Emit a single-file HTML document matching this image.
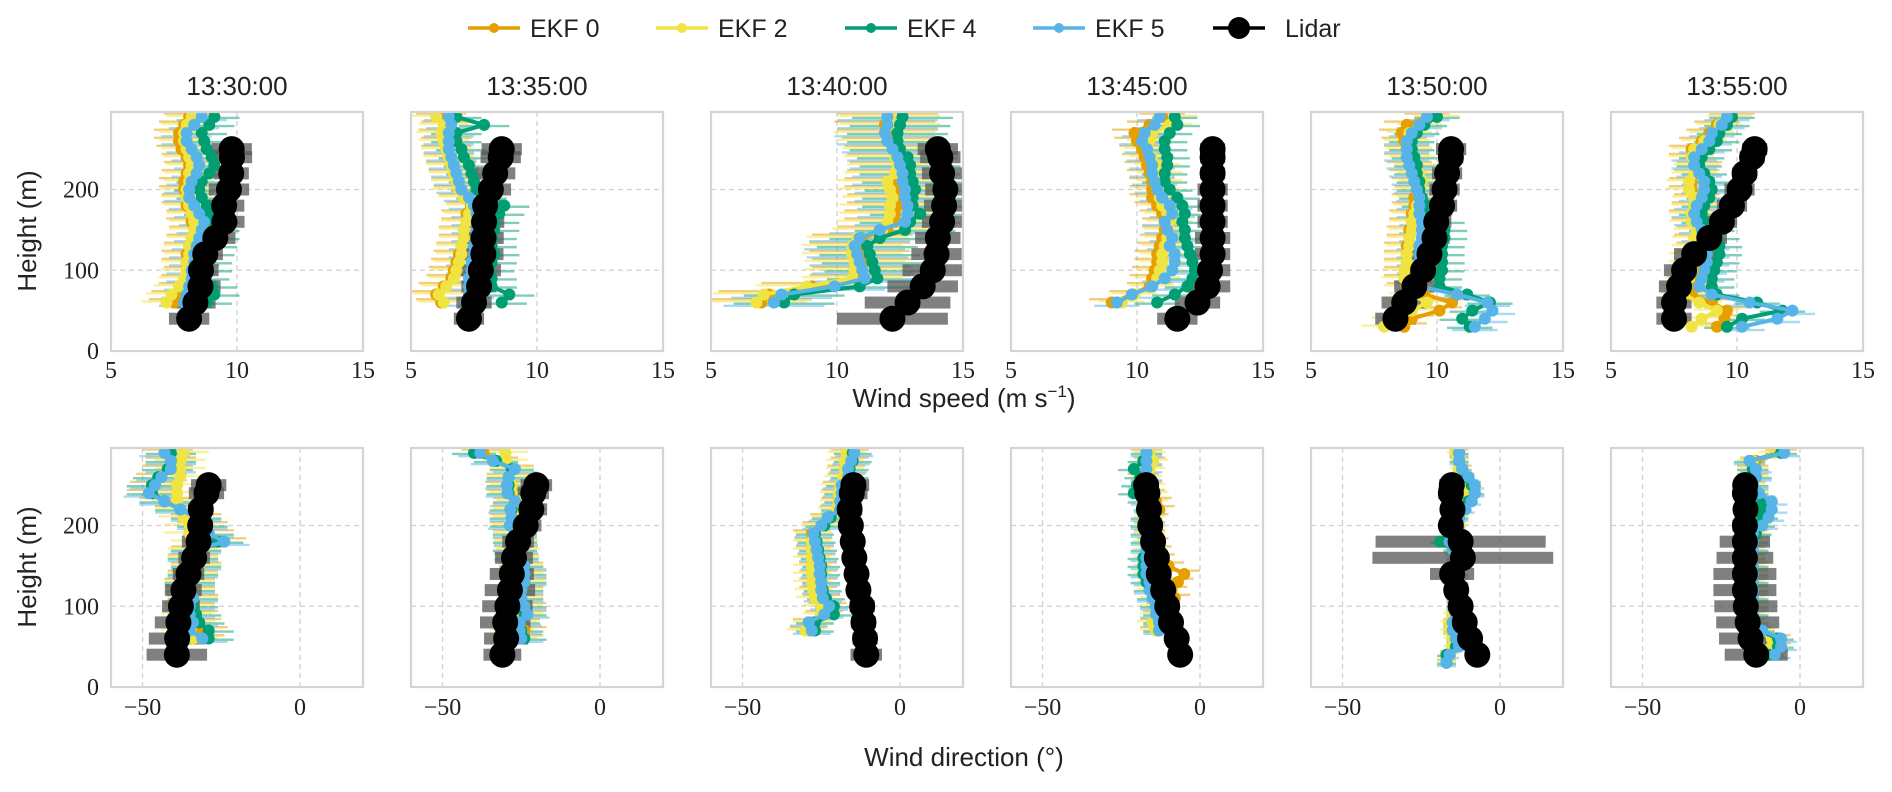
<!DOCTYPE html>
<html><head><meta charset="utf-8"><style>
html,body{margin:0;padding:0;background:#fff}
svg{display:block}
.tk{font-family:"Liberation Serif",serif;font-size:24px;fill:#222}
.lb{font-family:"Liberation Sans",sans-serif;fill:#222}
</style></head><body>
<svg id="fig" width="1892" height="792" viewBox="0 0 1892 792" xmlns="http://www.w3.org/2000/svg">
<g id="legend"></g>
<g id="panels"></g>
<text class="lb" x="964" y="407" font-size="26" text-anchor="middle">Wind speed (m s<tspan dy="-10" font-size="17">−1</tspan><tspan dy="10">)</tspan></text>
<text class="lb" x="964" y="766" font-size="26" text-anchor="middle">Wind direction (°)</text>
<text class="lb" transform="translate(36,231) rotate(-90)" font-size="26" text-anchor="middle">Height (m)</text>
<text class="lb" transform="translate(36,567) rotate(-90)" font-size="26" text-anchor="middle">Height (m)</text>
</svg>
<script>
const times = ["13:30:00","13:35:00","13:40:00","13:45:00","13:50:00","13:55:00"];
const seriesNames = ["EKF 0","EKF 2","EKF 4","EKF 5"];
const lidarHeights = [40,60,80,100,120,140,160,180,200,220,240,250];
const speedTicks = [5,10,15];
const dirTicks = [-50,0];
const heightTicks = [0,100,200];

const speedEkfStart = [60,60,60,60,30,30];
const speedEkfErr = [1.0,1.0,2.0,0.9,0.9,0.9];
const speedEkf0 = [
 [7.5,7.6,7.9,8.0,8.1,8.0,8.0,8.1,8.2,8.3,8.2,8.2,8.0,8.0,7.9,7.9,8.0,8.1,8.0,7.8,7.7,7.7,7.9,8.1],
 [6.2,6.0,6.3,6.6,6.7,6.8,6.9,7.0,7.1,7.1,7.2,7.2,7.4,7.1,6.9,6.8,6.7,6.6,6.5,6.4,6.4,6.3,6.4,6.2],
 [7.0,7.3,9.0,10.9,11.0,11.0,10.9,10.9,11.0,12.0,12.3,12.3,12.4,12.4,12.3,12.3,12.4,12.5,12.4,12.3,12.2,12.0,11.9,12.0],
 [9.0,9.8,10.5,10.6,10.7,10.8,10.8,10.9,11.0,11.1,11.1,11.0,10.8,10.6,10.6,10.6,10.5,10.4,10.3,10.2,10.0,9.9,10.5,11.0],
 [8.7,9.0,10.1,10.6,9.5,8.9,8.8,8.8,8.8,8.8,8.8,8.9,8.9,9.0,9.0,9.1,9.1,9.2,9.1,9.0,8.9,8.8,8.8,8.7,8.6,8.8,9.6],
 [9.2,9.5,9.6,9.0,8.2,8.2,8.3,8.4,8.4,8.5,8.5,8.4,8.5,8.3,8.2,8.3,8.4,8.2,8.2,8.4,8.5,8.2,8.2,8.6,8.9,9.2,9.8]];
const speedEkf2 = [
 [7.2,7.4,7.7,7.9,8.0,8.0,8.1,8.1,8.2,8.3,8.3,8.2,8.1,8.0,8.0,8.1,8.1,8.2,8.1,8.0,7.9,7.9,8.0,8.2],
 [6.3,6.1,6.4,6.7,6.8,6.9,7.0,7.0,7.1,7.1,7.2,7.3,7.4,7.1,6.9,6.8,6.7,6.6,6.5,6.4,6.3,6.2,6.3,6.0],
 [6.8,7.1,8.8,10.6,10.7,10.7,10.6,10.6,10.8,11.8,12.0,12.1,12.1,12.2,12.1,12.0,12.3,12.4,12.3,12.2,12.0,11.9,12.1,12.1],
 [9.4,9.9,10.6,10.8,10.9,11.0,11.0,11.1,11.2,11.2,11.3,11.2,11.0,10.9,10.8,10.9,10.9,10.8,10.6,10.4,10.5,10.6,11.3,11.5],
 [7.9,8.3,9.0,9.6,9.0,8.8,8.7,8.7,8.8,8.8,8.9,8.9,9.0,9.0,9.1,9.2,9.3,9.3,9.4,9.3,9.2,9.0,8.9,8.8,8.9,9.3,10.0],
 [8.2,8.6,9.2,8.5,7.9,7.9,8.1,8.2,8.2,8.2,8.3,8.3,8.4,8.2,8.2,8.3,8.3,8.1,8.1,8.3,8.4,8.2,8.3,8.7,9.0,9.3,9.7]];
const speedEkf4 = [
 [8.8,9.1,9.0,8.7,8.8,8.8,8.9,9.0,9.1,9.1,9.1,8.9,8.8,8.6,8.5,8.6,8.9,9.1,9.0,8.8,8.7,8.6,8.9,9.1],
 [8.6,8.9,8.2,8.2,8.1,8.2,8.3,8.2,8.2,8.3,8.3,8.5,8.7,7.8,7.6,7.5,7.4,7.3,7.1,7.0,6.8,6.8,7.9,6.8],
 [7.9,8.3,10.9,11.6,11.5,11.4,11.3,11.2,11.7,12.7,12.9,13.3,13.0,13.0,13.1,13.0,12.9,12.9,12.8,12.5,12.4,12.4,12.5,12.6],
 [10.8,11.5,12.0,12.2,12.3,12.2,12.1,12.0,11.9,11.9,11.8,11.9,11.8,11.6,11.3,11.1,11.1,11.2,11.2,11.1,11.1,11.3,11.6,11.5],
 [11.3,11.0,11.4,12.1,11.2,10.1,10.1,10.2,10.2,10.2,10.2,10.3,10.3,10.2,9.7,9.5,9.4,9.3,9.3,9.2,9.2,9.1,9.0,9.0,9.2,9.5,10.0],
 [9.6,10.2,11.8,10.8,9.2,9.0,9.0,9.1,9.2,9.3,9.3,9.2,9.0,8.7,8.6,8.7,8.9,9.0,8.9,8.7,8.5,8.6,8.9,9.2,9.3,9.6,9.8]];
const speedEkf5 = [
 [7.9,8.0,8.1,8.2,8.2,8.3,8.3,8.4,8.5,8.6,8.7,8.5,8.3,8.1,8.1,8.2,8.4,8.5,8.4,8.2,8.0,8.0,8.3,8.6],
 [7.2,7.3,7.3,7.3,7.4,7.4,7.5,7.5,7.6,7.6,7.6,7.6,7.5,7.3,7.0,6.9,6.8,6.7,6.6,6.5,6.5,6.5,6.6,6.5],
 [7.5,7.8,9.9,11.1,11.0,10.9,10.8,10.7,10.9,11.7,12.7,12.8,12.8,12.7,12.7,12.6,12.6,12.5,12.4,12.2,12.0,11.9,12.0,12.0],
 [9.2,9.8,10.6,11.1,11.4,11.5,11.5,11.3,11.4,11.2,11.1,11.4,11.3,11.0,10.8,10.7,10.6,10.6,10.5,10.4,10.2,10.3,10.7,10.9],
 [11.5,11.9,12.2,12.0,10.8,9.3,9.2,9.3,9.3,9.3,9.3,9.4,9.4,9.4,9.3,9.3,9.3,9.2,9.1,9.0,8.9,8.8,8.8,8.8,9.0,9.3,9.6],
 [10.2,11.6,12.2,10.5,9.0,8.5,8.6,8.7,8.8,8.8,8.8,8.7,8.6,8.4,8.3,8.4,8.6,8.7,8.7,8.5,8.3,8.3,8.6,8.9,9.0,9.4,9.6]];
const speedLidar = [
 [8.1,8.35,8.55,8.57,8.74,9.14,9.5,9.49,9.68,9.77,9.8,9.79],
 [7.3,7.5,7.7,7.77,7.87,7.88,7.9,7.94,8.17,8.34,8.56,8.6],
 [12.2,12.8,13.4,13.8,13.95,14.0,14.17,14.25,14.3,14.17,14.1,14.0],
 [11.6,12.4,12.8,12.9,13.0,13.0,13.0,13.0,13.0,13.0,13.0,13.0],
 [8.35,8.7,9.1,9.45,9.7,9.9,9.97,10.2,10.3,10.4,10.55,10.56],
 [7.5,7.5,7.7,7.9,8.3,8.9,9.4,9.8,10.1,10.3,10.6,10.7]];
const speedLidarErr = [
 [0.8,0.8,0.8,0.7,0.7,0.8,0.8,0.8,0.8,0.7,0.8,0.8],
 [0.6,0.7,0.7,0.8,0.8,0.8,0.8,0.8,0.8,0.8,0.8,0.8],
 [2.2,1.7,1.4,1.2,1.0,0.9,0.8,0.8,0.8,0.8,0.8,0.8],
 [0.8,0.9,0.9,0.8,0.7,0.7,0.6,0.6,0.6,0.5,0.5,0.5],
 [0.8,0.9,0.8,0.7,0.7,0.6,0.6,0.6,0.6,0.6,0.5,0.6],
 [0.7,0.7,0.8,0.8,0.8,0.7,0.6,0.6,0.6,0.5,0.5,0.5]];

const dirEkfStart = [60,60,70,70,30,40];
const dirEkfErr = [8,7,6,5,3,5];
const dirEkf0 = [
 [-32,-31,-33,-34,-35,-34,-35,-35,-34,-33,-34,-33,-25,-29,-31,-33,-38,-43,-47,-46,-44,-42,-41,-42],
 [-25,-24,-26,-24,-24,-25,-25,-24,-24,-25,-26.5,-26.7,-27,-27,-28,-28,-28,-27,-29,-29.5,-29,-28,-33,-37],
 [-29,-28,-24,-23,-25,-26,-26,-26,-26,-26.5,-27,-27.5,-28,-25,-22.5,-19.5,-19,-19,-18.5,-17,-17,-16,-16],
 [-14,-14,-13,-12,-8,-9,-7,-5,-10,-13,-14,-15,-16,-16,-15,-13,-14,-16,-17,-18,-17,-16,-17],
 [-17,-16,-14,-14,-15,-15,-14,-14,-14,-14,-13,-13,-13,-14,-15,-16,-14,-14,-13,-12,-10,-9,-9,-11,-12,-13,-13],
 [-9,-8,-8,-14,-16,-15,-15,-15,-15,-15,-15,-15,-16,-16,-17,-15,-14,-13,-13,-13,-15,-16,-15,-15,-14,-6]];
const dirEkf2 = [
 [-34,-36,-35,-36,-35,-34,-35,-35,-34,-33,-34,-34,-33,-35,-35,-37,-38,-39,-39,-39,-38,-38,-38,-37],
 [-27,-28,-27,-25,-25,-25,-25,-24,-25,-25,-26,-26,-26.5,-27,-27,-27,-27,-26,-28,-28,-29,-28,-30,-30],
 [-30,-28,-25,-25,-27,-27.5,-28,-28,-28,-28,-28,-28,-27.5,-25,-22,-20,-19.5,-19.5,-19,-18,-17.5,-17.5,-17],
 [-14,-15,-14,-14,-14,-15,-15,-16,-16,-16,-16,-16,-16,-16,-16,-15,-15,-15,-16,-17,-16,-15,-16],
 [-17,-16,-15,-15,-16,-16,-15,-14,-14,-15,-14,-14,-13,-14,-15,-16,-14,-13,-13,-12,-12,-11,-11,-12,-13,-13,-14],
 [-10,-9,-9,-13,-16,-16,-16,-16,-16,-16,-16,-16,-16,-16,-16,-16,-14,-14,-13,-13,-15,-16,-15,-15,-15,-8]];
const dirEkf4 = [
 [-29,-29,-32,-33,-34,-34,-35,-35,-34,-33,-34,-33,-26,-29,-31,-33,-38,-43,-47,-47,-45,-42,-41,-41],
 [-24,-25,-26,-24,-24,-25,-25,-24,-24,-25,-26.5,-27,-27,-27,-28,-28,-28,-27,-29,-29,-29,-28,-33,-40],
 [-27,-27,-21,-21,-23.5,-24.5,-25,-25,-25,-25.5,-26,-26.5,-27,-24,-22,-19,-18,-18,-17.5,-16,-16,-15,-15],
 [-13,-13,-13,-14,-15,-16,-17,-18,-18,-18,-17,-17,-17,-17,-17,-16,-18,-21,-20,-19,-21,-18,-17],
 [-17,-17,-14,-14,-15,-15,-14,-14,-14,-14,-13,-13,-13,-14,-15,-19,-15,-14,-13,-12,-10,-8,-9,-11,-12,-13,-13],
 [-10,-7,-7,-13,-15,-15,-15,-15,-15,-15,-15,-15,-16,-15,-15,-14,-13,-12,-12,-12,-15,-15,-14,-15,-16,-6]];
const dirEkf5 = [
 [-31,-35,-34,-35,-35,-34,-35,-35,-34,-33,-34,-33,-24,-29,-31,-33,-38,-43,-48,-46,-44,-41,-41,-43],
 [-25,-25.5,-25.5,-23,-24,-25,-25,-24,-24,-24,-26.5,-26.7,-26.7,-27,-28.6,-28,-28.5,-27,-29.4,-29.5,-29,-27,-34,-38],
 [-28,-29,-24,-22.5,-24.5,-25,-25,-25.5,-25.5,-26,-26.5,-27,-27.5,-25,-23,-19,-19,-18.5,-18.5,-16.5,-16.5,-15.5,-14.5],
 [-13,-13,-14,-14,-15,-16,-16,-17,-17,-17,-17,-17,-17,-17,-17,-16,-17,-18,-18,-17,-17,-17,-17],
 [-17,-16,-13,-14,-15,-15,-14,-14,-14,-14,-13,-13,-13,-14,-15,-16,-14,-14,-13,-11,-9,-8,-8,-10,-12,-13,-13],
 [-8,-6,-6,-12,-15,-15,-15,-15,-15,-15,-15,-15,-16,-15,-15,-15,-12,-10,-9,-9,-13,-15,-14,-14,-16,-5]];
const dirLidar = [
 [-39.1,-39,-38.6,-37.8,-37,-35.4,-33.6,-32.2,-31.7,-31.5,-29.7,-29],
 [-31,-29.8,-30.1,-29.4,-28.6,-28,-27.3,-26,-23.6,-21.8,-21.2,-20.2],
 [-10.7,-11.1,-11.6,-12,-13.2,-13.8,-14.5,-15,-15.6,-16,-15.3,-14.8],
 [-6.3,-7.4,-9.2,-10.4,-11.7,-13.1,-13.7,-14.9,-15.8,-16.2,-16.7,-17.1],
 [-7.2,-9.5,-11.2,-12.5,-13.9,-15.2,-11.8,-12.5,-15.6,-15.1,-15.6,-15.3],
 [-13.9,-15.7,-16.6,-17.2,-17.5,-17.5,-17.5,-17.5,-17.5,-17.3,-17.5,-17.4]];
const dirLidarErr = [
 [9.6,9,7.5,6,5.8,5,5,5.3,4,4,5.6,5.6],
 [6,7,8,8,8,7,6,5,5,5,5,5],
 [5,4,4,4,3.5,3.5,3.5,3.5,3.5,4,5,5],
 [2,3,3,3,3,3,3,3,3,3,3,3],
 [2,2,2,2,3,7,28.7,27,3,3,4,4],
 [10,10,10,10,10,10,9,8,4,3,3,3]];

const colors = ["#E69F00","#F0E442","#009E73","#56B4E9"];
const NS = "http://www.w3.org/2000/svg";
const colLeft = [111,411,711,1011,1311,1611], PW = 252;
const rows = [{top:112,bot:351},{top:448,bot:687}];
const HMAX = 296;

function mk(tag, attrs, parent){
  const e = document.createElementNS(NS, tag);
  for (const k in attrs) e.setAttribute(k, attrs[k]);
  parent.appendChild(e); return e;
}

const leg = document.getElementById('legend');
const legX = [468,656,845,1033,1213];
["EKF 0","EKF 2","EKF 4","EKF 5","Lidar"].forEach((nm,i)=>{
  const g = mk('g',{},leg);
  
  
  const c = i<4 ? colors[i] : "#000";
  mk('line',{x1:legX[i],x2:legX[i]+52,y1:28,y2:28,stroke:c,'stroke-width':3.5},g);
  mk('circle',{cx:legX[i]+26,cy:28,r:i<4?5:11,fill:c},g);
  const t = mk('text',{x:legX[i]+(i<4?62:72),y:37,class:'lb','font-size':25},g);
  t.textContent = nm;
});

const panelsG = document.getElementById('panels');
function drawPanel(row, col, cfg){
  const L = colLeft[col], R = L+PW, T = rows[row].top, B = rows[row].bot;
  const sx = v => L + (v-cfg.xmin)/(cfg.xmax-cfg.xmin)*PW;
  const sy = h => B - h/HMAX*(B-T);
  const g = mk('g',{},panelsG);
  
  
  const defs = mk('defs',{},g);
  const cp = mk('clipPath',{id:'cp'+row+col},defs);
  mk('rect',{x:L,y:T,width:PW,height:B-T},cp);
  cfg.ticks.forEach(v=>{
    const gl = mk('line',{x1:sx(v),x2:sx(v),y1:T,y2:B,stroke:'#d0d0d0','stroke-width':1.3,'stroke-dasharray':'5 4'},g);
    
    
    const t = mk('text',{x:sx(v),y:row===0?378:715,class:'tk','text-anchor':'middle'},g);
    
    
    t.textContent = v<0 ? '−'+Math.abs(v) : String(v);
  });
  heightTicks.forEach(h=>{
    if (h>0) mk('line',{x1:L,x2:R,y1:sy(h),y2:sy(h),stroke:'#d0d0d0','stroke-width':1.3,'stroke-dasharray':'5 4'},g);
    if (col===0){
      const t = mk('text',{x:L-12,y:sy(h)+8,class:'tk','text-anchor':'end'},g);
      
      
      t.textContent = String(h);
    }
  });
  const plot = mk('g',{'clip-path':'url(#cp'+row+col+')'},g);
  const series = cfg.ekf;
  series.forEach((vals,si)=>{
    vals.forEach((v,i)=>{
      const h = cfg.start + 10*i, y = sy(h) + (si-1.5)*2.2;
      const e = mk('line',{x1:sx(v-cfg.err),x2:sx(v+cfg.err),y1:y,y2:y,stroke:colors[si],'stroke-width':2.4,'stroke-opacity':0.5},plot);
      
      
    });
  });
  cfg.lidar.forEach((v,i)=>{
    const y = sy(lidarHeights[i]), e = cfg.lerr[i];
    const r = mk('rect',{x:sx(v-e),y:y-6,width:sx(v+e)-sx(v-e),height:12,fill:'#555','fill-opacity':0.75},plot);
    
    
  });
  series.forEach((vals,si)=>{
    const pts = vals.map((v,i)=>sx(v)+','+sy(cfg.start+10*i)).join(' ');
    const pl = mk('polyline',{points:pts,fill:'none',stroke:colors[si],'stroke-width':4,'stroke-linejoin':'round'},plot);
    
    
    vals.forEach((v,i)=>{
      const c = mk('circle',{cx:sx(v),cy:sy(cfg.start+10*i),r:6,fill:colors[si]},plot);
      
      
    });
  });
  const lp = cfg.lidar.map((v,i)=>sx(v)+','+sy(lidarHeights[i])).join(' ');
  const ll = mk('polyline',{points:lp,fill:'none',stroke:'#000','stroke-width':4},plot);
  
  
  cfg.lidar.forEach((v,i)=>{
    const c = mk('circle',{cx:sx(v),cy:sy(lidarHeights[i]),r:13,fill:'#000'},plot);
    
    
  });
  const fr = mk('rect',{x:L,y:T,width:PW,height:B-T,fill:'none',stroke:'#d4d4d4','stroke-width':2.2},g);
  
  
  if (row===0){
    const t = mk('text',{x:L+PW/2,y:T-17,class:'lb','font-size':26,'text-anchor':'middle'},g);
    
    
    t.textContent = times[col];
  }
}
for (let c=0;c<6;c++){
  drawPanel(0,c,{xmin:5,xmax:15,ticks:speedTicks,start:speedEkfStart[c],err:speedEkfErr[c],
    ekf:[speedEkf0[c],speedEkf2[c],speedEkf4[c],speedEkf5[c]],lidar:speedLidar[c],lerr:speedLidarErr[c]});
  drawPanel(1,c,{xmin:-60,xmax:20,ticks:dirTicks,start:dirEkfStart[c],err:dirEkfErr[c],
    ekf:[dirEkf0[c],dirEkf2[c],dirEkf4[c],dirEkf5[c]],lidar:dirLidar[c],lerr:dirLidarErr[c]});
}
</script>
</body></html>
